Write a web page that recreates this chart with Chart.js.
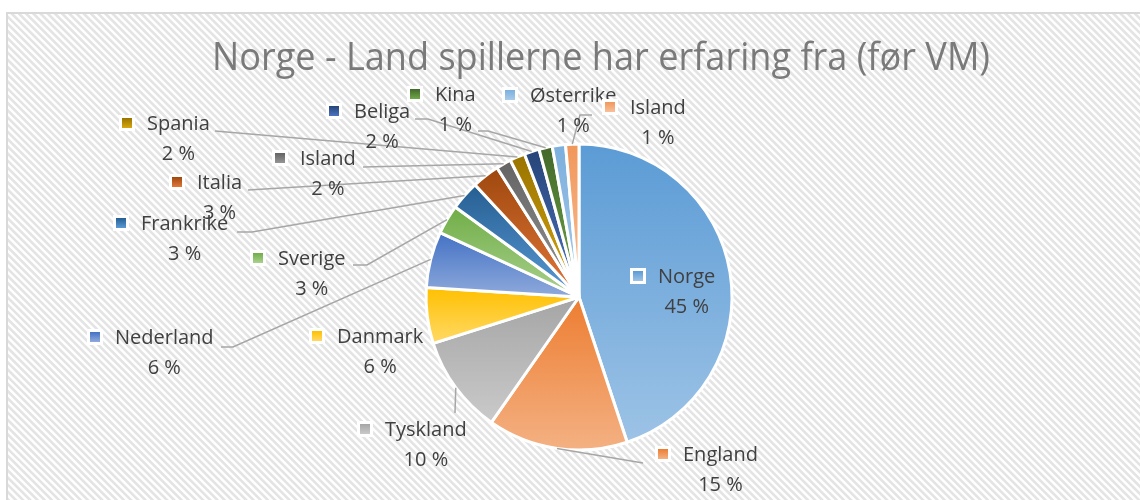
<!DOCTYPE html>
<html>
<head>
<meta charset="utf-8">
<script src="https://cdn.jsdelivr.net/npm/chart.js@4.4.0/dist/chart.umd.min.js"></script>
<style>
  html, body { margin: 0; padding: 0; background: #ffffff; }
  #wrap { width: 1140px; height: 500px; }
</style>
</head>
<body>
<div id="wrap"><canvas id="pie" width="1140" height="500"></canvas></div>
<script>
// --- Data ---
const chartTitle = 'Norge - Land spillerne har erfaring fra (før VM)';
const categories = ['Norge', 'England', 'Tyskland', 'Danmark', 'Nederland', 'Sverige', 'Frankrike',
    'Italia', 'Island', 'Spania', 'Beliga', 'Kina', 'Østerrike', 'Island'];
const shares = [44.9, 14.8, 10.4, 5.9, 5.9, 3.1, 3.1, 2.9, 1.6, 1.6, 1.6, 1.4, 1.4, 1.4];

// --- Styles: Office palette, top colour and lighter bottom colour of the gradient ---
const topColors = ['#5b9bd5', '#ed7d31', '#a5a5a5', '#ffc000', '#4472c4', '#70ad47', '#255e91',
    '#9e480e', '#636363', '#997300', '#264478', '#43682b', '#7cafdd', '#f1975a'];
const bottomColors = ['#9dc3e6', '#f4b183', '#cacaca', '#ffd966', '#8faadc', '#a9d18e', '#5a9ad6',
    '#e2763a', '#969696', '#d6a810', '#4d74c0', '#70a848', '#a8cbea', '#f8c09a'];

// Where each data label sits (legend key centre) and the bends of its leader line
const labelLayout = [
    { kx: 638, ky: 276, path: null },
    { kx: 663, ky: 454, path: [[643, 463]] },
    { kx: 365, ky: 429, path: [[455, 413]] },
    { kx: 317, ky: 336, path: null },
    { kx: 95, ky: 337, path: [[221, 347], [233, 347]] },
    { kx: 258, ky: 258, path: [[353, 265], [367, 265]] },
    { kx: 121, ky: 223, path: [[237, 232], [252, 232]] },
    { kx: 177, ky: 182, path: [[248, 190]] },
    { kx: 280, ky: 158, path: [[363, 167]] },
    { kx: 127, ky: 123, path: [[215, 131]] },
    { kx: 334, ky: 111, path: [[415, 119], [428, 119]] },
    { kx: 415, ky: 94, path: [[478, 131], [488, 131]] },
    { kx: 510, ky: 95, path: null },
    { kx: 610, ky: 107, path: [[592, 115], [580, 115]] }
];

const PIE_RADIUS = 153;
const LABEL_FONT = '20px "Open Sans", "Noto Sans", sans-serif';

/**
 * Gradient for one slice, from the top of its bounding box to the bottom.
 */
function sliceGradient(context) {
    const chart = context.chart;
    const i = context.dataIndex;
    const area = chart.chartArea;
    if (!area) return topColors[i];

    const values = context.dataset.data;
    const total = values.reduce((a, b) => a + b, 0);
    let before = 0;
    for (let k = 0; k < i; k++) before += values[k];
    const a0 = -Math.PI / 2 + 2 * Math.PI * before / total;
    const a1 = a0 + 2 * Math.PI * values[i] / total;

    const cy = (area.top + area.bottom) / 2;
    const ys = [cy, cy + PIE_RADIUS * Math.sin(a0), cy + PIE_RADIUS * Math.sin(a1)];
    if (a0 <= Math.PI / 2 && a1 >= Math.PI / 2) ys.push(cy + PIE_RADIUS);
    if (a0 <= -Math.PI / 2 + 1e-9 || a1 >= 3 * Math.PI / 2 - 1e-9) ys.push(cy - PIE_RADIUS);

    const g = chart.ctx.createLinearGradient(0, Math.min(...ys), 0, Math.max(...ys));
    g.addColorStop(0, topColors[i]);
    g.addColorStop(1, bottomColors[i]);
    return g;
}

// Striped background with the light grey frame
const backgroundPlugin = {
    id: 'stripes',
    beforeDraw(chart) {
        const ctx = chart.ctx;
        const w = chart.width, h = chart.height;
        ctx.save();
        ctx.fillStyle = '#ffffff';
        ctx.fillRect(0, 0, w, h);

        ctx.beginPath();
        ctx.rect(7, 13, w, h);
        ctx.clip();
        ctx.strokeStyle = '#e4e4e4';
        ctx.lineWidth = 2.6;
        ctx.beginPath();
        for (let x = -h; x < w; x += 7.2) {
            ctx.moveTo(x, 13);
            ctx.lineTo(x + h, 13 + h);
        }
        ctx.stroke();
        ctx.restore();

        ctx.save();
        ctx.strokeStyle = '#d9d9d9';
        ctx.lineWidth = 2;
        ctx.strokeRect(7, 13, w + 10, h + 10);
        ctx.restore();
    }
};

// Title, squeezed to the width of the narrow original font
const titlePlugin = {
    id: 'narrowTitle',
    afterDraw(chart) {
        const ctx = chart.ctx;
        ctx.save();
        ctx.font = '38px "Open Sans", "Noto Sans", sans-serif';
        ctx.fillStyle = '#7a7a7a';
        ctx.textBaseline = 'alphabetic';
        const width = ctx.measureText(chartTitle).width;
        const sx = Math.min(1, 778 / width);
        ctx.translate(601, 70);
        ctx.scale(sx, 1);
        ctx.textAlign = 'center';
        ctx.fillText(chartTitle, 0, 0);
        ctx.restore();
    }
};

// Data labels with legend keys and leader lines
const labelPlugin = {
    id: 'sliceLabels',
    afterDatasetsDraw(chart) {
        const ctx = chart.ctx;
        const meta = chart.getDatasetMeta(0);
        const values = chart.data.datasets[0].data;
        const total = values.reduce((a, b) => a + b, 0);

        ctx.save();
        // leader lines first
        ctx.strokeStyle = '#a6a6a6';
        ctx.lineWidth = 1.5;
        meta.data.forEach((arc, i) => {
            const lay = labelLayout[i];
            if (!lay.path) return;
            const p = arc.getProps(['x', 'y', 'startAngle', 'endAngle', 'outerRadius'], true);
            const mid = (p.startAngle + p.endAngle) / 2;
            ctx.beginPath();
            ctx.moveTo(lay.path[0][0], lay.path[0][1]);
            for (let k = 1; k < lay.path.length; k++) ctx.lineTo(lay.path[k][0], lay.path[k][1]);
            ctx.lineTo(p.x + Math.cos(mid) * p.outerRadius, p.y + Math.sin(mid) * p.outerRadius);
            ctx.stroke();
        });

        ctx.font = LABEL_FONT;
        ctx.textBaseline = 'middle';
        meta.data.forEach((arc, i) => {
            const lay = labelLayout[i];
            // legend key
            const g = ctx.createLinearGradient(0, lay.ky - 5, 0, lay.ky + 5);
            g.addColorStop(0, topColors[i]);
            g.addColorStop(1, bottomColors[i]);
            ctx.fillStyle = g;
            ctx.fillRect(lay.kx - 5, lay.ky - 5, 10, 10);
            ctx.strokeStyle = '#ffffff';
            ctx.lineWidth = 3;
            ctx.strokeRect(lay.kx - 6.5, lay.ky - 6.5, 13, 13);

            // name and percentage
            const name = categories[i];
            const pct = Math.round(values[i] / total * 100) + ' %';
            const tx = lay.kx + 20;
            const nameWidth = ctx.measureText(name).width;
            ctx.fillStyle = '#404040';
            ctx.textAlign = 'left';
            ctx.fillText(name, tx, lay.ky + 1);
            ctx.textAlign = 'center';
            ctx.fillText(pct, tx + nameWidth / 2, lay.ky + 31);
        });
        ctx.restore();
    }
};

const pieCanvas = document.getElementById('pie');

new Chart(pieCanvas, {
    type: 'pie',
    data: {
        labels: categories,
        datasets: [{
            data: shares,
            backgroundColor: sliceGradient,
            borderColor: '#ffffff',
            borderWidth: 3
        }]
    },
    options: {
        responsive: false,
        animation: false,
        devicePixelRatio: 1,
        events: [],
        radius: PIE_RADIUS,
        layout: {
            padding: { left: 118, right: 100, top: 144, bottom: 50 }
        },
        plugins: {
            legend: { display: false },
            title: { display: false },
            tooltip: { enabled: false }
        }
    },
    plugins: [backgroundPlugin, titlePlugin, labelPlugin]
});
</script>
</body>
</html>
